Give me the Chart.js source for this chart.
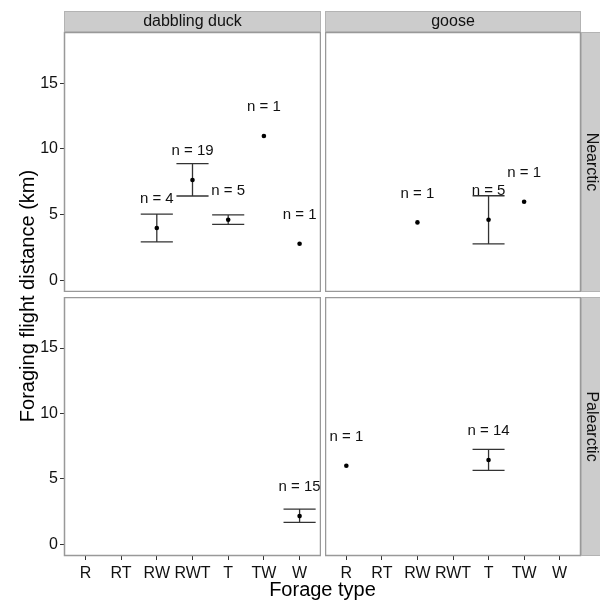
<!DOCTYPE html>
<html>
<head>
<meta charset="utf-8">
<script src="https://cdn.jsdelivr.net/npm/chart.js@4/dist/chart.umd.min.js"></script>
<style>
  body { margin: 0; background: #fff; }
  #wrap { position: relative; width: 600px; height: 600px; overflow: hidden;
          font-family: "Liberation Sans", Arial, sans-serif; }
  .cell { position: absolute; }
  .title { position: absolute; color: #000; font-size: 20px; white-space: nowrap; text-align: center; }
</style>
</head>
<body>
<div id="wrap">
  <div class="cell" style="left:0;top:0;width:321px;height:292px"><canvas id="tl"></canvas></div>
  <div class="cell" style="left:325px;top:0;width:275px;height:292px"><canvas id="tr"></canvas></div>
  <div class="cell" style="left:0;top:297px;width:321px;height:303px"><canvas id="bl"></canvas></div>
  <div class="cell" style="left:325px;top:297px;width:275px;height:303px"><canvas id="br"></canvas></div>
  <div class="title" style="left:0;top:578px;width:645px;line-height:22px">Forage type</div>
  <div class="title" style="left:-173px;top:284px;width:400px;line-height:24px;transform:rotate(-90deg)">Foraging flight distance (km)</div>
</div>
<script>
const categories = ['R', 'RT', 'RW', 'RWT', 'T', 'TW', 'W'];
const yTicks = [0, 5, 10, 15];

// Nearctic, dabbling duck
const nearDuckType = ['RW', 'RWT', 'T', 'TW', 'W'];
const nearDuckMean = [3.97, 7.63, 4.6, 10.98, 2.77];
const nearDuckLow  = [2.92, 6.41, 4.25, null, null];
const nearDuckHigh = [5.03, 8.87, 4.98, null, null];
const nearDuckN    = [4, 19, 5, 1, 1];

// Nearctic, goose
const nearGooseType = ['RW', 'T', 'TW'];
const nearGooseMean = [4.4, 4.6, 5.97];
const nearGooseLow  = [null, 2.77, null];
const nearGooseHigh = [null, 6.43, null];
const nearGooseN    = [1, 5, 1];

// Palearctic, dabbling duck
const palDuckType = ['W'];
const palDuckMean = [2.15];
const palDuckLow  = [1.67];
const palDuckHigh = [2.68];
const palDuckN    = [15];

// Palearctic, goose
const palGooseType = ['R', 'T'];
const palGooseMean = [6.0, 6.44];
const palGooseLow  = [null, 5.65];
const palGooseHigh = [null, 7.25];
const palGooseN    = [1, 14];

const FONT = '"Liberation Sans", Arial, sans-serif';
const capHalf = 0.45;    // errorbar width 0.9
const labelLift = 2.2;   // n label sits above the mean

function fixBox(s, w, h) {
  if (w != null) s.width = w;
  if (h != null) s.height = h;
  s.paddingTop = s.paddingBottom = s.paddingLeft = s.paddingRight = 0;
}

const facetPlugin = {
  id: 'facet',
  beforeDatasetsDraw(chart, args, o) {
    const { ctx } = chart;
    const xs = chart.scales.x, ys = chart.scales.y;
    ctx.save();
    ctx.strokeStyle = '#333';
    ctx.lineWidth = 1.3;
    o.types.forEach((t, i) => {
      if (o.low[i] == null) return;
      const c = categories.indexOf(t);
      const x = xs.getPixelForValue(c);
      const x0 = xs.getPixelForValue(c - capHalf);
      const x1 = xs.getPixelForValue(c + capHalf);
      const yl = ys.getPixelForValue(o.low[i]);
      const yh = ys.getPixelForValue(o.high[i]);
      ctx.beginPath();
      ctx.moveTo(x, yl); ctx.lineTo(x, yh);
      ctx.moveTo(x0, yl); ctx.lineTo(x1, yl);
      ctx.moveTo(x0, yh); ctx.lineTo(x1, yh);
      ctx.stroke();
    });
    ctx.restore();
  },
  afterDatasetsDraw(chart, args, o) {
    const { ctx } = chart;
    const xs = chart.scales.x, ys = chart.scales.y;
    ctx.save();
    ctx.fillStyle = '#111';
    ctx.font = '15px ' + FONT;
    ctx.textAlign = 'center';
    ctx.textBaseline = 'middle';
    o.types.forEach((t, i) => {
      const x = xs.getPixelForValue(categories.indexOf(t));
      const y = ys.getPixelForValue(o.mean[i] + labelLift);
      ctx.fillText('n = ' + o.n[i], x, y);
    });
    ctx.restore();
  },
  afterDraw(chart, args, o) {
    const { ctx, chartArea: a } = chart;
    ctx.save();
    ctx.strokeStyle = '#999';
    ctx.lineWidth = 1.5;
    ctx.strokeRect(a.left + 0.5, a.top + 0.5, a.right - a.left - 1, a.bottom - a.top - 1);
    ctx.fillStyle = '#cccccc';
    ctx.strokeStyle = '#b3b3b3';
    ctx.lineWidth = 1;
    ctx.font = '16px ' + FONT;
    ctx.textAlign = 'center';
    ctx.textBaseline = 'middle';
    if (o.top) {
      ctx.fillRect(a.left, a.top - 21, a.right - a.left, 21);
      ctx.strokeRect(a.left + 0.5, a.top - 20.5, a.right - a.left - 1, 20);
      ctx.fillStyle = '#111';
      ctx.fillText(o.top, (a.left + a.right) / 2, a.top - 10.5);
      ctx.fillStyle = '#cccccc';
    }
    if (o.right) {
      ctx.fillRect(a.right, a.top, 22, a.bottom - a.top);
      ctx.strokeRect(a.right + 0.5, a.top + 0.5, 22, a.bottom - a.top - 1);
      ctx.fillStyle = '#111';
      ctx.translate(a.right + 10, (a.top + a.bottom) / 2);
      ctx.rotate(Math.PI / 2);
      ctx.fillText(o.right, 0, 0);
    }
    ctx.restore();
  }
};

function makePanel(id, p) {
  new Chart(document.getElementById(id), {
    type: 'scatter',
    data: {
      datasets: [{
        data: p.types.map((t, i) => ({ x: categories.indexOf(t), y: p.mean[i] })),
        pointRadius: 2.3,
        pointBackgroundColor: '#000',
        pointBorderWidth: 0,
        clip: false
      }]
    },
    options: {
      responsive: true,
      maintainAspectRatio: false,
      animation: false,
      events: [],
      layout: { autoPadding: false, padding: { top: p.top ? 32 : 0, right: p.right ? 19 : 0, bottom: 0, left: 0 } },
      scales: {
        x: {
          type: 'linear', min: -0.6, max: 6.6, display: p.showX,
          afterBuildTicks: s => { s.ticks = categories.map((_, i) => ({ value: i })); },
          afterFit: s => fixBox(s, null, p.showX ? 44 : 0),
          grid: { drawOnChartArea: false, tickLength: 4, color: '#333' },
          border: { display: false },
          ticks: {
            callback: v => categories[v], autoSkip: false, maxRotation: 0,
            font: { size: 16, family: FONT }, color: '#111', padding: 4
          }
        },
        y: {
          type: 'linear', min: -0.9, max: 18.9, display: p.showY,
          afterBuildTicks: s => { s.ticks = yTicks.map(v => ({ value: v })); },
          afterFit: s => fixBox(s, p.showY ? 64 : 0, null),
          grid: { drawOnChartArea: false, tickLength: 4, color: '#333' },
          border: { display: false },
          ticks: { font: { size: 16, family: FONT }, color: '#111', padding: 2 }
        }
      },
      plugins: {
        legend: { display: false },
        tooltip: { enabled: false },
        facet: p
      }
    },
    plugins: [facetPlugin]
  });
}

makePanel('tl', { types: nearDuckType, mean: nearDuckMean, low: nearDuckLow, high: nearDuckHigh, n: nearDuckN,
  top: 'dabbling duck', right: null, showX: false, showY: true });
makePanel('tr', { types: nearGooseType, mean: nearGooseMean, low: nearGooseLow, high: nearGooseHigh, n: nearGooseN,
  top: 'goose', right: 'Nearctic', showX: false, showY: false });
makePanel('bl', { types: palDuckType, mean: palDuckMean, low: palDuckLow, high: palDuckHigh, n: palDuckN,
  top: null, right: null, showX: true, showY: true });
makePanel('br', { types: palGooseType, mean: palGooseMean, low: palGooseLow, high: palGooseHigh, n: palGooseN,
  top: null, right: 'Palearctic', showX: true, showY: false });
</script>
</body>
</html>
